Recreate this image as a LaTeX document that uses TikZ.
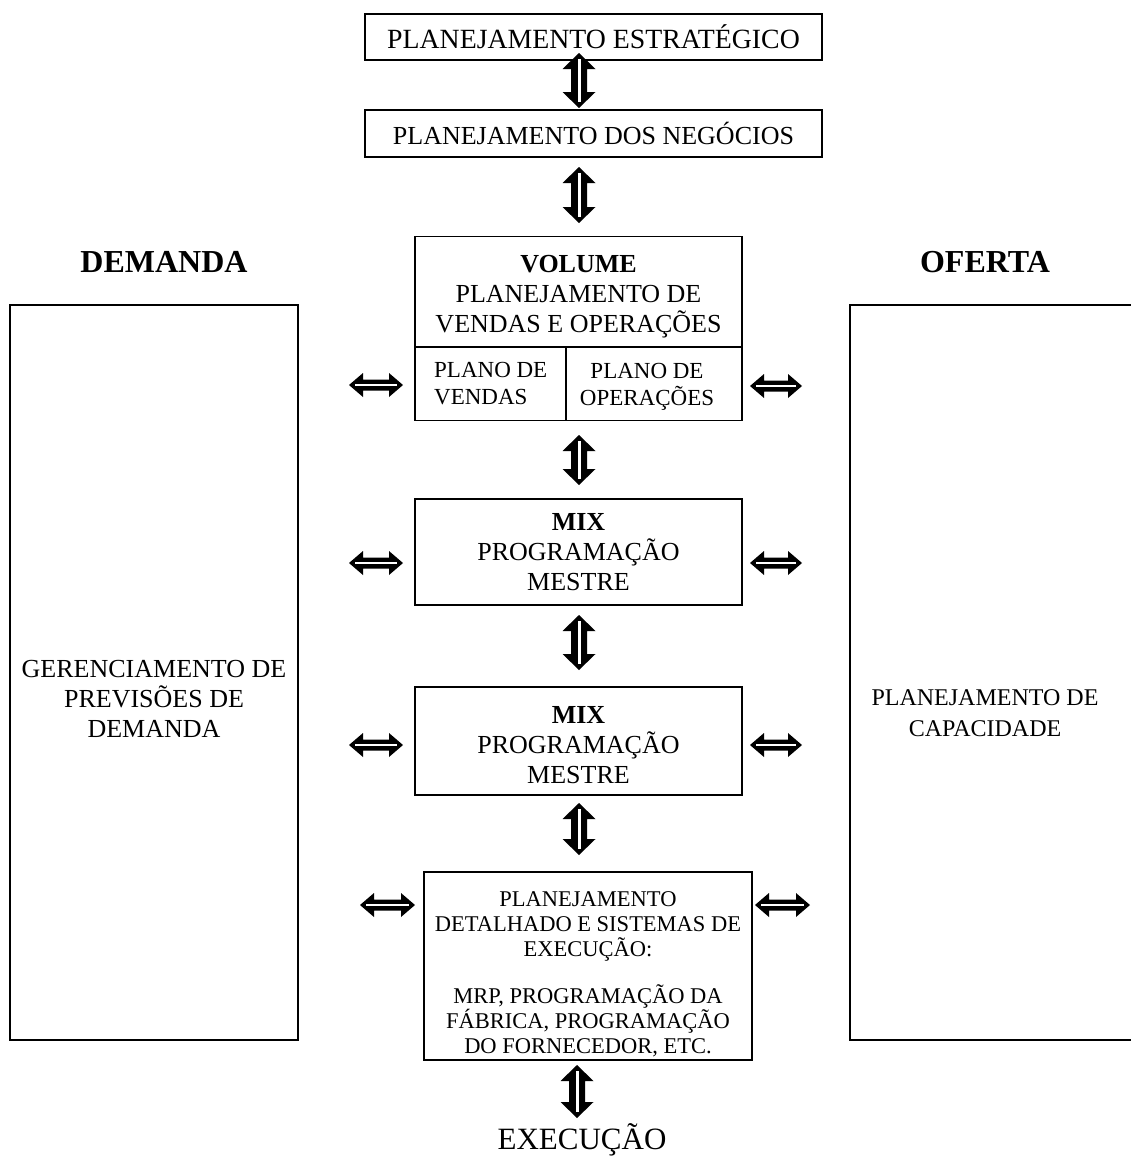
\documentclass[tikz,border=0pt]{standalone}
\usepackage{fontspec}
\setmainfont{Liberation Serif}
\usetikzlibrary{calc}
\newcommand\fsA{\fontsize{26}{30}\selectfont}
\newcommand\fsB{\fontsize{27.8}{30}\selectfont}
\newcommand\fsC{\fontsize{23}{27}\selectfont}
\newcommand\fsD{\fontsize{22.5}{25}\selectfont}
\newcommand\fsE{\fontsize{24}{31}\selectfont}
\newcommand\fsH{\fontsize{32}{36}\selectfont}
% vertical block double arrow between two named coordinates (top, bottom)
\newcommand\vbarrow[2]{%
  \fill[black] let \p1=(#1), \p2=(#2) in
    (\p1) -- (\x1+16.5pt,\y1-16pt) -- (\x1+8pt,\y1-16pt) -- (\x1+8pt,\y2+16pt)
    -- (\x1+16.5pt,\y2+16pt) -- (\p2) -- (\x1-16.5pt,\y2+16pt) -- (\x1-8pt,\y2+16pt)
    -- (\x1-8pt,\y1-16pt) -- (\x1-16.5pt,\y1-16pt) -- cycle;
  \draw[vslit] (#1) -- (#2);}
% horizontal block double arrow between two named coordinates (left, right)
\newcommand\hbarrow[2]{%
  \fill[black] let \p1=(#1), \p2=(#2) in
    (\p1) -- (\x1+14pt,\y1+12pt) -- (\x1+14pt,\y1+5.5pt) -- (\x2-14pt,\y1+5.5pt)
    -- (\x2-14pt,\y1+12pt) -- (\p2) -- (\x2-14pt,\y1-12pt) -- (\x2-14pt,\y1-5.5pt)
    -- (\x1+14pt,\y1-5.5pt) -- (\x1+14pt,\y1-12pt) -- cycle;
  \draw[hslit] (#1) -- (#2);}
\begin{document}
\begin{tikzpicture}[x=1pt,y=-1pt,
  box/.style={draw, line width=1.6pt, inner sep=0pt, align=center},
  txt/.style={inner sep=0pt, align=center},
  vslit/.style={white, line width=3pt, shorten <=6pt, shorten >=6pt},
  hslit/.style={white, line width=2.5pt, shorten <=6pt, shorten >=6pt},
]
\useasboundingbox (0,0) rectangle (1130,1167);

% top boxes
\node[box, minimum width=457pt, minimum height=46pt] (ps) at (593.5,37) {\fsB PLANEJAMENTO ESTRATÉGICO};
\node[box, minimum width=457pt, minimum height=47pt] (pn) at (593.5,133.5) {\fsA PLANEJAMENTO DOS NEGÓCIOS};

% headings
\node[txt, font=\fsH\bfseries] (demh) at (164,262) {DEMANDA};
\node[txt, font=\fsH\bfseries] (ofeh) at (985,262) {OFERTA};

% side boxes
\node[box, minimum width=288pt, minimum height=735pt] (dem) at (154,672.5) {};
\node[txt, font=\fsA] (demt) at (154,699) {GERENCIAMENTO DE\\PREVISÕES DE\\DEMANDA};
\node[box, minimum width=300pt, minimum height=735pt] (ofe) at (1000,672.5) {};
\node[txt, font=\fsE] (ofet) at (985,713) {PLANEJAMENTO DE\\CAPACIDADE};

% volume box
\node[box, minimum width=327pt, minimum height=184pt] (vol) at (578.5,328.5) {};
\coordinate (dl) at (415,347);
\coordinate (dv) at (566,347);
\draw[line width=1.6pt] (vol.west |- dl) -- (vol.east |- dl);
\draw[line width=1.6pt] (dv) -- (dv |- vol.south);
\node[txt, font=\fsA] (volt) at (578.5,297) {\textbf{VOLUME}\\PLANEJAMENTO DE\\VENDAS E OPERAÇÕES};
\node[txt, font=\fsC, anchor=west, align=left] (pv) at (434,384) {PLANO DE\\VENDAS};
\node[txt, font=\fsC] (po) at (647,387) {PLANO DE\\OPERAÇÕES};

% mix boxes
\node[box, minimum width=327pt, minimum height=106pt, font=\fsA] (mix1) at (578.5,552) {\textbf{MIX}\\PROGRAMAÇÃO\\MESTRE};
\node[box, minimum width=327pt, minimum height=108pt] (mix2) at (578.5,741) {};
\node[txt, font=\fsA] (mix2t) at (578.5,745) {\textbf{MIX}\\PROGRAMAÇÃO\\MESTRE};

% detail box
\node[box, minimum width=328pt, minimum height=188pt] (det) at (588,966) {};
\node[txt, font=\fsD] (dett) at (588,974) {PLANEJAMENTO\\DETALHADO E SISTEMAS DE\\EXECUÇÃO:\\[22pt]MRP, PROGRAMAÇÃO DA\\FÁBRICA, PROGRAMAÇÃO\\DO FORNECEDOR, ETC.};

% execution
\node[txt, font=\fontsize{31}{35}\selectfont, anchor=base] (exe) at (582,1149) {EXECUÇÃO};

% vertical arrows
\coordinate (v1a) at (579,53);   \coordinate (v1b) at (579,108);
\coordinate (v2a) at (579,167);  \coordinate (v2b) at (579,223);
\coordinate (v3a) at (579,435);  \coordinate (v3b) at (579,485);
\coordinate (v4a) at (579,615);  \coordinate (v4b) at (579,670);
\coordinate (v5a) at (579,803);  \coordinate (v5b) at (579,855);
\coordinate (v6a) at (577,1065); \coordinate (v6b) at (577,1118);
\foreach \i in {1,...,6}{\vbarrow{v\i a}{v\i b}}

% horizontal arrows
\coordinate (h1a) at (349,385); \coordinate (h1b) at (403,385);
\coordinate (h2a) at (750,386); \coordinate (h2b) at (802,386);
\coordinate (h3a) at (349,563); \coordinate (h3b) at (403,563);
\coordinate (h4a) at (750,563); \coordinate (h4b) at (802,563);
\coordinate (h5a) at (349,745); \coordinate (h5b) at (403,745);
\coordinate (h6a) at (750,745); \coordinate (h6b) at (802,745);
\coordinate (h7a) at (360,905); \coordinate (h7b) at (415,905);
\coordinate (h8a) at (755,905); \coordinate (h8b) at (810,905);
\foreach \i in {1,...,8}{\hbarrow{h\i a}{h\i b}}
\end{tikzpicture}
\end{document}
